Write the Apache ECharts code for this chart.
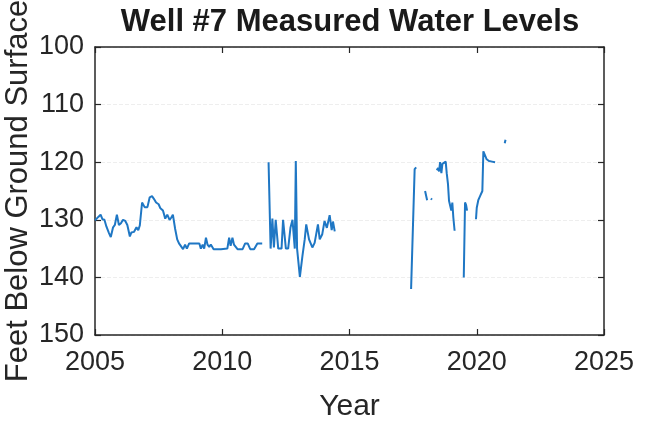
<!DOCTYPE html>
<html>
<head>
<meta charset="utf-8">
<title>Well #7 Measured Water Levels</title>
<script src="https://cdn.jsdelivr.net/npm/echarts@6/dist/echarts.min.js"></script>
<style>
	html, body { margin: 0; padding: 0; background: #fff; }
	#chart1 { width: 647px; height: 430px; }
</style>
</head>
<body>
<div id="chart1"></div>
<script>
// measurement dates (decimal years), '-' in levels marks a gap in the record
var years = [
	2005.00, 2005.13, 2005.22, 2005.29, 2005.37, 2005.45, 2005.55, 2005.62, 2005.71, 2005.78,
	2005.86, 2005.94, 2006.02, 2006.10, 2006.19, 2006.27, 2006.37, 2006.43, 2006.53, 2006.63,
	2006.70, 2006.76, 2006.85, 2006.95, 2007.06, 2007.15, 2007.24, 2007.32, 2007.40, 2007.50,
	2007.57, 2007.67, 2007.76, 2007.84, 2007.93, 2008.00, 2008.06, 2008.10, 2008.15, 2008.23,
	2008.30, 2008.37, 2008.46, 2008.54, 2008.61, 2008.70, 2008.90, 2009.10, 2009.16, 2009.23,
	2009.29, 2009.36, 2009.42, 2009.49, 2009.55, 2009.66, 2009.95, 2010.20, 2010.27, 2010.33,
	2010.40, 2010.46, 2010.60, 2010.80, 2010.90, 2011.00, 2011.10, 2011.25, 2011.38, 2011.57,
	2011.70,
	2011.82, 2011.90, 2011.97, 2012.03, 2012.10, 2012.20, 2012.33, 2012.39, 2012.50, 2012.59,
	2012.68, 2012.76, 2012.85, 2012.89, 2012.94, 2013.05, 2013.15, 2013.24, 2013.30, 2013.41,
	2013.54, 2013.63, 2013.76, 2013.83, 2013.93, 2014.02, 2014.11, 2014.22, 2014.30, 2014.35,
	2014.42,
	2016.00,
	2017.42, 2017.56, 2017.62,
	2017.80,
	2017.97, 2018.05,
	2018.12,
	2018.20, 2018.24,
	2018.33,
	2018.43, 2018.48, 2018.52, 2018.56, 2018.61, 2018.65, 2018.72, 2018.78, 2018.82, 2018.87,
	2018.91, 2018.95, 2019.00, 2019.04, 2019.08, 2019.13,
	2019.30,
	2019.49, 2019.54, 2019.58, 2019.62,
	2019.80,
	2019.97, 2020.00, 2020.06, 2020.13, 2020.18, 2020.22, 2020.26, 2020.30, 2020.39, 2020.48,
	2020.60, 2020.72,
	2020.90,
	2021.10, 2021.13
];

// depth to water, feet below ground surface
var levels = [
	130.1, 129.5, 129.1, 129.9, 130.0, 131.2, 132.3, 133.0, 131.3, 130.9,
	129.1, 130.9, 130.6, 130.0, 130.2, 130.9, 132.9, 132.2, 132.1, 131.3,
	131.8, 131.0, 127.0, 127.8, 127.8, 126.1, 125.9, 126.4, 127.0, 127.3,
	128.0, 128.4, 129.8, 129.1, 130.0, 129.6, 129.1, 128.8, 131.6, 133.4,
	134.1, 134.3, 135.1, 134.3, 135.0, 134.1, 134.1, 134.1, 135.0, 134.3,
	135.0, 133.1, 134.3, 134.7, 134.3, 135.1, 135.1, 135.0, 133.1, 134.5,
	133.1, 134.3, 135.1, 135.1, 134.1, 134.1, 135.1, 135.1, 134.1, 134.1,
	'-',
	120.0, 135.0, 129.8, 134.8, 130.0, 135.0, 135.0, 130.0, 135.0, 135.0,
	131.4, 130.0, 135.0, 119.8, 135.0, 139.9, 136.3, 133.4, 130.8, 133.4,
	134.8, 134.0, 130.8, 133.4, 132.5, 130.2, 131.4, 129.2, 131.8, 130.3,
	132.0,
	'-',
	142.0, 121.2, 120.9,
	'-',
	125.0, 126.6,
	'-',
	126.3, 126.5,
	'-',
	121.4, 121.0, 121.6, 120.0, 121.9, 120.3, 120.1, 119.9, 121.9, 123.8,
	126.7, 127.0, 128.4, 127.0, 129.6, 131.9,
	'-',
	140.0, 127.0, 127.4, 128.4,
	'-',
	129.9, 127.9, 126.6, 125.9, 125.9, 125.0, 118.1, 118.3, 119.5, 119.8,
	119.9, 120.0,
	'-',
	116.7, 116.1
];

// axis ranges: [min, max, step]
var yearTicks = [2005, 2025, 5];
var depthTicks = [100, 150, 10];

window.onload = function() {
	// 绘制水位
	initWellChart();
};

// 绘制水位
function initWellChart() {
	var myChart = echarts.init(document.getElementById("chart1"));
	var points = [];
	for (var i = 0; i < years.length; i++) {
		points.push([years[i], levels[i]]);
	}
	var axisColor = '#262626';
	var frameLine = {
		show : true,
		onZero : false,
		lineStyle : { color : axisColor, width : 1.5 }
	};
	var frameTick = {
		show : true,
		inside : true,
		length : 6,
		lineStyle : { color : axisColor, width : 1.2 }
	};
	option = {
		animation : false,
		backgroundColor : '#fff',
		title : {
			text : 'Well #7 Measured Water Levels',
			left : 345,
			top : 2,
			textAlign : 'center',
			textStyle : {
				color : '#1a1a1a',
				fontSize : 31,
				fontWeight : 'bold',
				fontFamily : 'Liberation Sans'
			}
		},
		grid : {
			left : 95,
			right : 43,
			top : 47,
			bottom : 95,
			containLabel : false,
			outerBoundsMode : 'none'
		},
		xAxis : [ {
			type : 'value',
			min : yearTicks[0],
			max : yearTicks[1],
			interval : yearTicks[2],
			name : 'Year',
			nameLocation : 'middle',
			nameGap : 57,
			nameTextStyle : {
				color : axisColor,
				fontSize : 30,
				fontFamily : 'Liberation Sans'
			},
			axisLine : frameLine,
			axisTick : frameTick,
			axisLabel : {
				margin : 14,
				color : axisColor,
				fontSize : 27,
				fontFamily : 'Liberation Sans',
				formatter : function(v) { return String(v); }
			},
			splitLine : { show : false }
		}, {
			type : 'value',
			position : 'top',
			min : yearTicks[0],
			max : yearTicks[1],
			interval : yearTicks[2],
			axisLine : frameLine,
			axisTick : frameTick,
			axisLabel : { show : false },
			splitLine : { show : false }
		} ],
		yAxis : [ {
			type : 'value',
			inverse : true,
			min : depthTicks[0],
			max : depthTicks[1],
			interval : depthTicks[2],
			name : 'Feet Below Ground Surface',
			nameLocation : 'middle',
			nameGap : 61,
			nameMoveOverlap : false,
			nameTextStyle : {
				color : axisColor,
				fontSize : 31,
				fontFamily : 'Liberation Sans'
			},
			axisLine : frameLine,
			axisTick : frameTick,
			axisLabel : {
				margin : 11,
				color : axisColor,
				fontSize : 27,
				fontFamily : 'Liberation Sans'
			},
			splitLine : {
				show : true,
				lineStyle : { color : '#eeeeee', type : 'dashed', width : 1 }
			}
		}, {
			type : 'value',
			position : 'right',
			inverse : true,
			min : depthTicks[0],
			max : depthTicks[1],
			interval : depthTicks[2],
			axisLine : frameLine,
			axisTick : frameTick,
			axisLabel : { show : false },
			splitLine : { show : false }
		} ],
		series : [ {
			name : 'Water level',
			type : 'line',
			xAxisIndex : 0,
			yAxisIndex : 0,
			data : points,
			showSymbol : false,
			connectNulls : false,
			lineStyle : { color : '#1f77c4', width : 2 },
			itemStyle : { color : '#1f77c4' }
		} ]
	};
	myChart.setOption(option);
}
</script>
</body>
</html>
